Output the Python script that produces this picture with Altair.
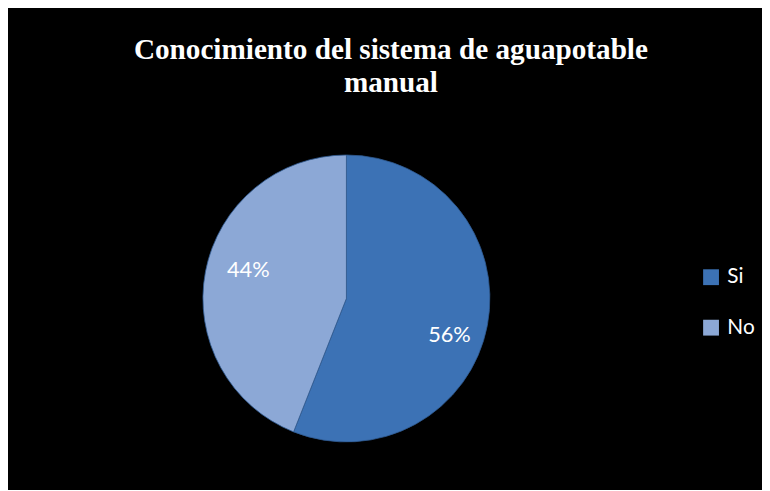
import altair as alt
import pandas as pd

categories = ["Si", "No"]
values = [56, 44]
labels = ["56%", "44%"]
order_idx = [1, 2]
colors = ["#3c72b5", "#8ca8d6"]
title_lines = ["Conocimiento del sistema de aguapotable", "manual"]

df = pd.DataFrame({"cat": categories, "value": values, "label": labels, "ord": order_idx})

CX, CY, R = 342, 291, 145

color = alt.Color(
    "cat:N",
    scale=alt.Scale(domain=categories, range=colors),
    sort=categories,
    legend=alt.Legend(
        title=None,
        orient="none",
        legendX=700,
        legendY=259,
        symbolType="square",
        symbolSize=256,
        symbolStrokeWidth=0,
        labelFontSize=21,
        labelFont="Lato",
        labelColor="white",
        labelOffset=6,
        rowPadding=29,
    ),
)

base = alt.Chart(df)

pie = base.mark_arc(x=CX, y=CY, outerRadius=R, stroke="#2f5a90", strokeWidth=0.8).encode(
    theta=alt.Theta("value:Q", stack=True),
    order=alt.Order("ord:Q"),
    color=color,
)

txt_common = dict(x=CX, y=CY, radius=105, fontSize=22, font="Lato", color="white",
                  align="center", baseline="middle")

lab_si = base.mark_text(dx=1, dy=17, **txt_common).encode(
    theta=alt.Theta("value:Q", stack=True),
    order=alt.Order("ord:Q"),
    text="label:N",
    opacity=alt.condition(alt.datum.cat == "Si", alt.value(1), alt.value(0)),
)
lab_no = base.mark_text(dx=4, dy=-9, **txt_common).encode(
    theta=alt.Theta("value:Q", stack=True),
    order=alt.Order("ord:Q"),
    text="label:N",
    opacity=alt.condition(alt.datum.cat == "No", alt.value(1), alt.value(0)),
)

title = alt.Chart(pd.DataFrame({"t": [title_lines]})).mark_text(
    x=387, y=49, font="Liberation Serif", fontWeight="bold", fontSize=29.5,
    color="white", align="center", baseline="alphabetic", lineHeight=33,
).encode(text="t:N")

chart = alt.layer(pie, lab_si, lab_no, title).properties(
    width=762, height=482,
    autosize=alt.AutoSizeParams(type="none"),
    padding=0,
    background="black",
).configure_view(stroke=None)

chart.save("out.html", embed_options={"renderer": "svg", "actions": False})
